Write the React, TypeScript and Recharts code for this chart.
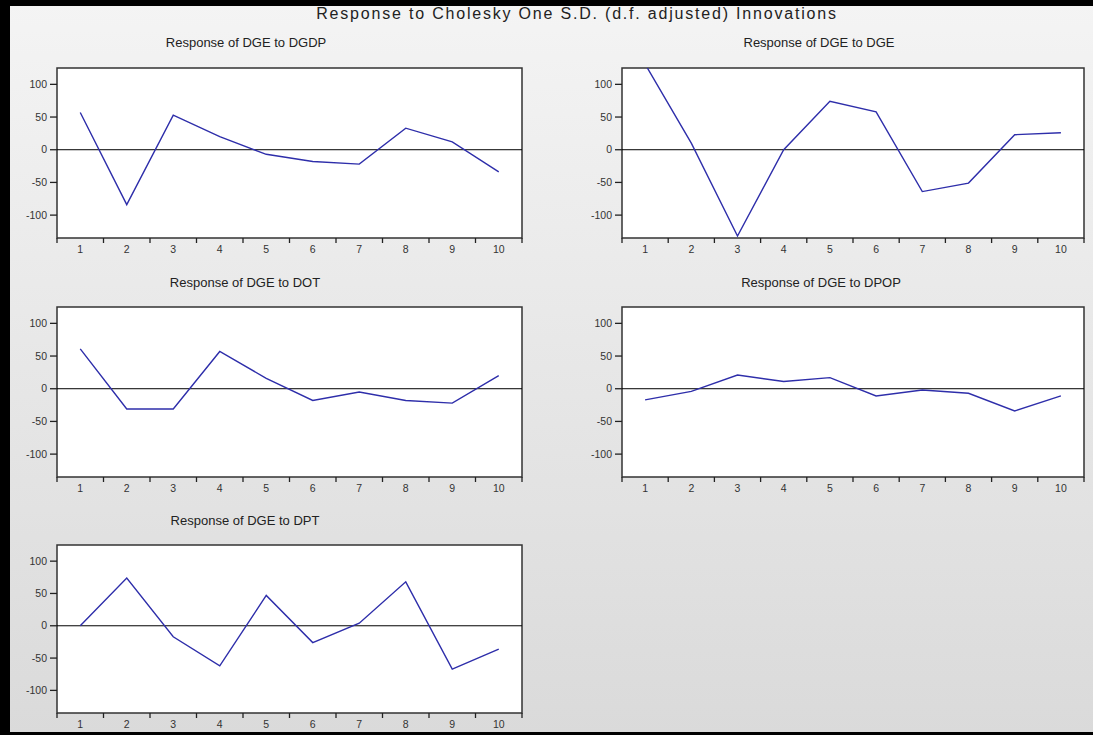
import React from 'react';
import {
    LineChart,
    Line,
    XAxis,
    YAxis,
    CartesianGrid,
    ReferenceLine,
    ReferenceArea,
} from 'recharts';

const steps = [1, 2, 3, 4, 5, 6, 7, 8, 9, 10];
const dgdp = [57, -84, 53, 20, -7, -18, -22, 33, 12, -34];
const dge = [131, 10, -132, 0, 74, 58, -64, -51, 23, 26];
const dot = [61, -31, -31, 57, 16, -18, -5, -18, -22, 20];
const dpop = [-17, -4, 21, 11, 17, -11, -2, -7, -34, -11];
const dpt = [0, 74, -17, -62, 47, -26, 4, 68, -67, -36];
const yTicks = [-100, -50, 0, 50, 100];
const xTicks = [0.5, 1, 1.5, 2, 2.5, 3, 3.5, 4, 4.5, 5, 5.5, 6, 6.5, 7, 7.5, 8, 8.5, 9, 9.5, 10, 10.5];

const FONT = '"Liberation Sans", Arial, sans-serif';
const LINE_COLOR = '#2e2eaa';

const XTick = (props: any) => {
    const { x, y, payload } = props;
    const v = payload.value;
    if (v % 1 !== 0) {
        return <line x1={x} x2={x} y1={y} y2={y + 5} stroke="#222" strokeWidth={1.3} />;
    }
    return (
        <text x={x} y={y + 15} textAnchor="middle" fontSize={10.5} fill="#333" fontFamily={FONT}>
            {v}
        </text>
    );
};

interface PanelProps {
    title: string;
    values: number[];
    left: number; // plot box left
    top: number; // plot box top
    width: number;
    height: number;
    titleX: number;
    titleY: number;
}

const Panel: React.FC<PanelProps> = ({ title, values, left, top, width, height, titleX, titleY }) => {
    const data = steps.map((s, i) => ({ step: s, value: values[i] }));
    return (
        <>
            <div
                style={{
                    position: 'absolute',
                    left: titleX,
                    top: titleY,
                    transform: 'translate(-50%, -50%)',
                    fontFamily: FONT,
                    fontSize: 13,
                    color: '#222',
                    whiteSpace: 'nowrap',
                }}
            >
                {title}
            </div>
            <div style={{ position: 'absolute', left: left - 50, top: top - 5 }}>
                <LineChart
                    width={width + 60}
                    height={height + 30}
                    data={data}
                    margin={{ top: 5, right: 10, left: 0, bottom: 0 }}
                >
                    <CartesianGrid horizontal={false} vertical={false} fill="#ffffff" stroke="none" />
                    <XAxis
                        dataKey="step"
                        type="number"
                        domain={[0.5, 10.5]}
                        ticks={xTicks}
                        interval={0}
                        height={25}
                        axisLine={false}
                        tickLine={false}
                        tickSize={0}
                        tickMargin={0}
                        tick={<XTick />}
                    />
                    <YAxis
                        type="number"
                        domain={[-135, 125]}
                        allowDataOverflow
                        ticks={yTicks}
                        interval={0}
                        width={50}
                        axisLine={false}
                        tickSize={7}
                        tickMargin={3}
                        tickLine={{ stroke: '#222', strokeWidth: 1.3 }}
                        tick={{ fontSize: 10.5, fill: '#333', fontFamily: FONT }}
                    />
                    <ReferenceLine y={0} stroke="#000" strokeWidth={1} />
                    <Line
                        type="linear"
                        dataKey="value"
                        stroke={LINE_COLOR}
                        strokeWidth={1.4}
                        dot={false}
                        isAnimationActive={false}
                    />
                    <ReferenceArea
                        x1={0.5}
                        x2={10.5}
                        y1={-135}
                        y2={125}
                        fill="none"
                        fillOpacity={0}
                        stroke="#333"
                        strokeWidth={1.5}
                    />
                </LineChart>
            </div>
        </>
    );
};

const App: React.FC = () => {
    return (
        <div
            style={{
                position: 'absolute',
                left: 0,
                top: 0,
                width: 1093,
                height: 735,
                overflow: 'hidden',
                background: 'linear-gradient(to bottom, #f4f4f4, #dadada)',
                fontFamily: FONT,
            }}
        >
            <div style={{ position: 'absolute', left: 0, top: 0, width: 1093, height: 6, background: '#000' }} />
            <div style={{ position: 'absolute', left: 0, top: 0, width: 10, height: 735, background: '#000' }} />
            <div style={{ position: 'absolute', left: 0, top: 732, width: 1093, height: 3, background: '#000' }} />
            <div
                style={{
                    position: 'absolute',
                    left: 577,
                    top: 14,
                    transform: 'translate(-50%, -50%)',
                    fontSize: 16,
                    letterSpacing: 1.8,
                    color: '#222',
                    whiteSpace: 'nowrap',
                }}
            >
                Response to Cholesky One S.D. (d.f. adjusted) Innovations
            </div>
            <Panel title="Response of DGE to DGDP" values={dgdp} left={57} top={68} width={465} height={170} titleX={246} titleY={42} />
            <Panel title="Response of DGE to DGE" values={dge} left={622} top={68} width={462} height={170} titleX={819} titleY={42} />
            <Panel title="Response of DGE to DOT" values={dot} left={57} top={307} width={465} height={170} titleX={245} titleY={282} />
            <Panel title="Response of DGE to DPOP" values={dpop} left={622} top={307} width={462} height={170} titleX={821} titleY={282} />
            <Panel title="Response of DGE to DPT" values={dpt} left={57} top={545} width={465} height={168} titleX={245} titleY={520} />
        </div>
    );
};

export default App;
